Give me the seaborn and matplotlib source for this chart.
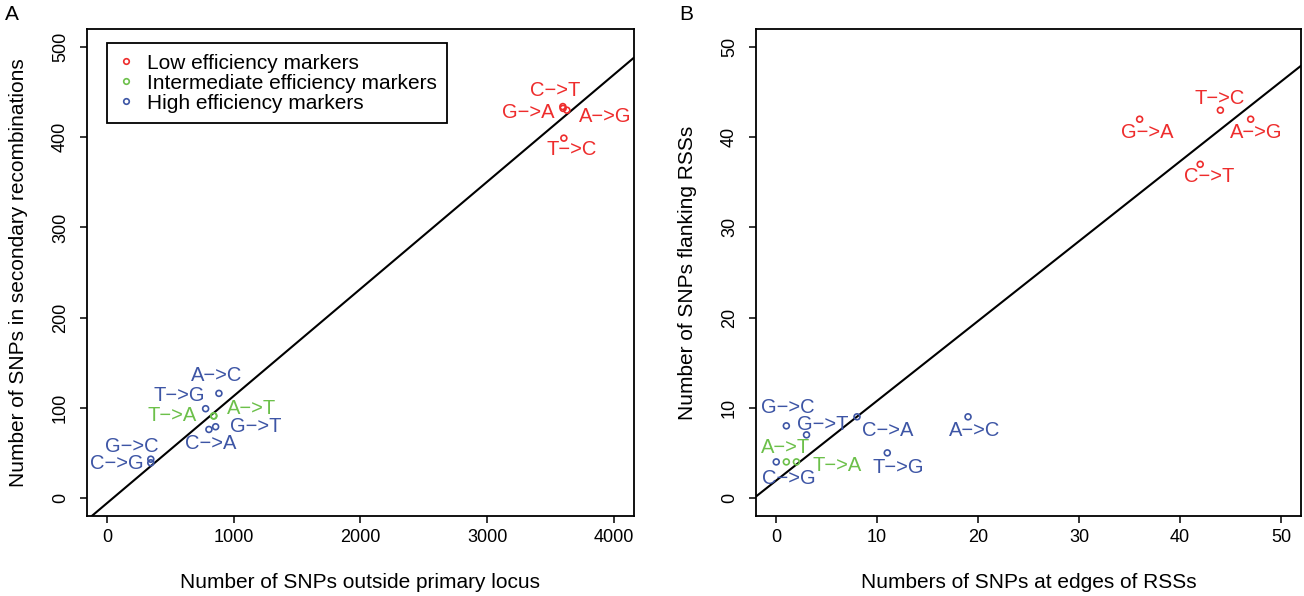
import pandas as pd
import matplotlib
matplotlib.use("Agg")
import matplotlib.pyplot as plt
import seaborn as sns
from matplotlib.lines import Line2D

sns.set_style("ticks")
plt.rcParams['font.family'] = ['Liberation Sans', 'DejaVu Sans']
plt.rcParams.update({"text.color": "black", "axes.labelcolor": "black",
                     "xtick.color": "black", "ytick.color": "black"})

# ---------------- DATA ---------------- #
groups = ["Low efficiency markers", "Intermediate efficiency markers", "High efficiency markers"]
colors = ["#EE2C2C", "#6CC04A", "#3D55A5"]

# panel A: SNPs outside primary locus vs SNPs in secondary recombinations
a_labels = ["C->T", "G->A", "A->G", "T->C", "T->A", "A->T",
            "A->C", "T->G", "G->T", "C->A", "G->C", "C->G"]
a_group = [0, 0, 0, 0, 1, 1, 2, 2, 2, 2, 2, 2]
a_x = [3598, 3600, 3630, 3606, 840, 842, 882, 777, 856, 803, 344, 344]
a_y = [434, 432, 430, 399, 91, 91, 116, 99, 79, 76, 43, 39]
a_fit = (-5.5, 0.1187)   # intercept, slope

# panel B: SNPs at edges of RSSs vs SNPs flanking RSSs
b_labels = ["G->A", "T->C", "A->G", "C->T", "A->T", "T->A",
            "G->C", "G->T", "C->A", "A->C", "T->G", "C->G"]
b_group = [0, 0, 0, 0, 1, 1, 2, 2, 2, 2, 2, 2]
b_x = [36, 44, 47, 42, 1, 2, 1, 3, 8, 19, 11, 0]
b_y = [42, 43, 42, 37, 4, 4, 8, 7, 9, 9, 5, 4]
b_fit = (1.94, 0.8846)

# label offsets from point, in pixels (x right, y up)
a_off = [(-8, 16), (-35, -4), (38, -6), (8, -11), (-41, 0), (38, 7),
         (-2, 18), (-26, 13), (40, 0), (2, -14), (-19, 13), (-34, -1)]
b_off = [(8, -13), (-1, 12), (6, -13), (9, -12), (-1, 14), (41, -4),
         (1, 18), (16, 10), (31, -14), (7, -14), (11, -15), (13, -17)]


def panel(ax, xs, ys, grp, labels, offs, fit, xlim, ylim, ticks, xlabel, ylabel):
    df = pd.DataFrame({"x": xs, "y": ys, "group": [groups[g] for g in grp]})
    sns.scatterplot(data=df, x="x", y="y", hue="group", hue_order=groups,
                    palette=colors, s=18, linewidth=1.2, legend=False, ax=ax, zorder=3)
    pts = ax.collections[-1]
    pts.set_edgecolors(pts.get_facecolors())
    pts.set_facecolors("none")

    ax.axline((0, fit[0]), slope=fit[1], color="black", lw=1.5, zorder=2)

    for x, y, g, lab, (dx, dy) in zip(xs, ys, grp, labels, offs):
        ax.annotate(lab.replace("-", "\u2212"), (x, y), xytext=(dx, dy),
                    textcoords="offset pixels", ha="center", va="center",
                    color=colors[g], fontsize=14.5)

    ax.set_xlim(*xlim)
    ax.set_ylim(*ylim)
    ax.set_xticks(ticks[0])
    ax.set_yticks(ticks[1])
    ax.tick_params(axis="both", direction="out", length=5, width=1.1,
                   labelsize=13, color="black")
    ax.tick_params(axis="x", pad=4)
    ax.tick_params(axis="y", pad=8)
    for t in ax.get_yticklabels():
        t.set_rotation(90)
        t.set_va("center")
    for s in ax.spines.values():
        s.set_visible(True)
        s.set_color("black")
        s.set_linewidth(1.3)
    ax.set_xlabel(xlabel, fontsize=15)
    ax.set_ylabel(ylabel, fontsize=15)
    ax.xaxis.set_label_coords(0.5, -0.137)
    ax.xaxis.label.set_va("center")
    ax.yaxis.set_label_coords(-0.126, 0.5)
    ax.yaxis.label.set_va("center")


fig = plt.figure(figsize=(13.04, 5.96), dpi=100)
ax1 = fig.add_axes([0.0667, 0.1342, 0.4195, 0.8171])
ax2 = fig.add_axes([0.5798, 0.1342, 0.4180, 0.8171])

panel(ax1, a_x, a_y, a_group, a_labels, a_off, a_fit, (-160, 4160), (-20, 520),
      ([0, 1000, 2000, 3000, 4000], [0, 100, 200, 300, 400, 500]),
      "Number of SNPs outside primary locus", "Number of SNPs in secondary recombinations")
panel(ax2, b_x, b_y, b_group, b_labels, b_off, b_fit, (-2, 52), (-2, 52),
      ([0, 10, 20, 30, 40, 50], [0, 10, 20, 30, 40, 50]),
      "Numbers of SNPs at edges of RSSs", "Number of SNPs flanking RSSs")

handles = [Line2D([], [], marker="o", ls="", mfc="none", mec=c, ms=4, mew=1.2) for c in colors]
leg = ax1.legend(handles, groups, loc="upper left", bbox_to_anchor=(0.0366, 0.971),
                 borderaxespad=0, fontsize=15, frameon=True, fancybox=False,
                 framealpha=1, edgecolor="black", handlelength=0.8, handletextpad=0.6,
                 labelspacing=0.05, borderpad=0.5)
leg.get_frame().set_linewidth(1.3)

fig.text(0.0092, 0.975, "A", fontsize=15, ha="center", va="center")
fig.text(0.526, 0.975, "B", fontsize=15, ha="center", va="center")

fig.savefig("out.png", dpi=100)
